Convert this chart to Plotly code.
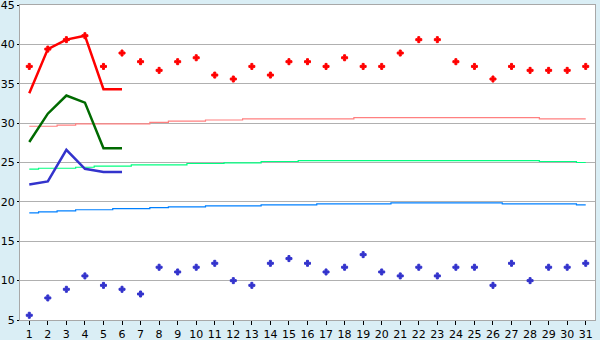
import plotly.graph_objects as go

days = list(range(1, 32))

max_temp = [37.2, 39.4, 40.6, 41.1, 37.2, 38.9, 37.8, 36.7, 37.8, 38.3,
            36.1, 35.6, 37.2, 36.1, 37.8, 37.8, 37.2, 38.3, 37.2, 37.2,
            38.9, 40.6, 40.6, 37.8, 37.2, 35.6, 37.2, 36.7, 36.7, 36.7, 37.2]
min_temp = [5.6, 7.8, 8.9, 10.6, 9.4, 8.9, 8.3, 11.7, 11.1, 11.7,
            12.2, 10.0, 9.4, 12.2, 12.8, 12.2, 11.1, 11.7, 13.3, 11.1,
            10.6, 11.7, 10.6, 11.7, 11.7, 9.4, 12.2, 10.0, 11.7, 11.7, 12.2]

forecast_days = [1, 2, 3, 4, 5, 6]
forecast_high = [33.8, 39.4, 40.6, 41.1, 34.3, 34.3]
forecast_mid = [27.6, 31.2, 33.5, 32.6, 26.8, 26.8]
forecast_low = [22.2, 22.6, 26.6, 24.2, 23.8, 23.8]

normal_high = [29.6, 29.6, 29.75, 29.9, 29.9, 29.9, 29.9, 30.1, 30.25, 30.25,
               30.4, 30.4, 30.55, 30.55, 30.55, 30.55, 30.55, 30.55, 30.7, 30.7,
               30.7, 30.7, 30.7, 30.7, 30.7, 30.7, 30.7, 30.7, 30.55, 30.55, 30.55]
normal_mid = [24.15, 24.27, 24.27, 24.4, 24.53, 24.53, 24.7, 24.7, 24.7, 24.87,
              24.87, 24.95, 24.95, 25.13, 25.13, 25.25, 25.25, 25.25, 25.25, 25.25,
              25.25, 25.25, 25.25, 25.25, 25.25, 25.25, 25.25, 25.25, 25.13, 25.13, 25.0]
normal_low = [18.6, 18.73, 18.85, 19.0, 19.0, 19.15, 19.15, 19.27, 19.36, 19.36,
              19.5, 19.5, 19.5, 19.62, 19.62, 19.62, 19.75, 19.75, 19.75, 19.75,
              19.87, 19.87, 19.87, 19.87, 19.87, 19.87, 19.75, 19.75, 19.75, 19.75, 19.62]

y_ticks = [5, 10, 15, 20, 25, 30, 35, 40, 45]

fig = go.Figure()

for vals, col in [(normal_high, "#ff8080"), (normal_mid, "#00ff80"), (normal_low, "#0080ff")]:
    fig.add_trace(go.Scatter(x=days, y=vals, mode="lines",
                             line=dict(color=col, width=1.2, shape="hvh")))

for vals, col in [(forecast_high, "#ff0000"), (forecast_mid, "#006a00"), (forecast_low, "#3333cc")]:
    fig.add_trace(go.Scatter(x=forecast_days, y=vals, mode="lines",
                             line=dict(color=col, width=2.5)))

fig.add_trace(go.Scatter(x=days, y=max_temp, mode="markers",
                         marker=dict(symbol="cross", size=5, color="#ff0000",
                                     line=dict(color="#ff0000", width=1))))
fig.add_trace(go.Scatter(x=days, y=min_temp, mode="markers",
                         marker=dict(symbol="cross", size=5, color="#3333cc",
                                     line=dict(color="#3333cc", width=1))))

fig.update_layout(
    width=600, height=340,
    margin=dict(l=20, r=5, t=5, b=20),
    paper_bgcolor="#daeef5",
    plot_bgcolor="#ffffff",
    showlegend=False,
    font=dict(family="DejaVu Sans", size=11, color="#000000"),
)
fig.update_xaxes(range=[0.5, 31.5], tickmode="array", tickvals=days,
                 ticktext=[str(d) for d in days],
                 showgrid=False, zeroline=False, automargin=False,
                 showline=True, linecolor="#a8a8a8", linewidth=1, mirror=True,
                 ticks="outside", ticklen=4, tickcolor="#000000", tickwidth=1,
                 ticklabeloverflow="allow")
fig.update_yaxes(range=[5, 45], tickvals=y_ticks,
                 showgrid=True, gridcolor="#b0b0b0", gridwidth=1, zeroline=False,
                 automargin=False,
                 showline=True, linecolor="#a8a8a8", linewidth=1, mirror=True,
                 ticks="outside", ticklen=2, tickcolor="#000000", tickwidth=1,
                 ticklabeloverflow="allow")

fig.write_html("out.html")
